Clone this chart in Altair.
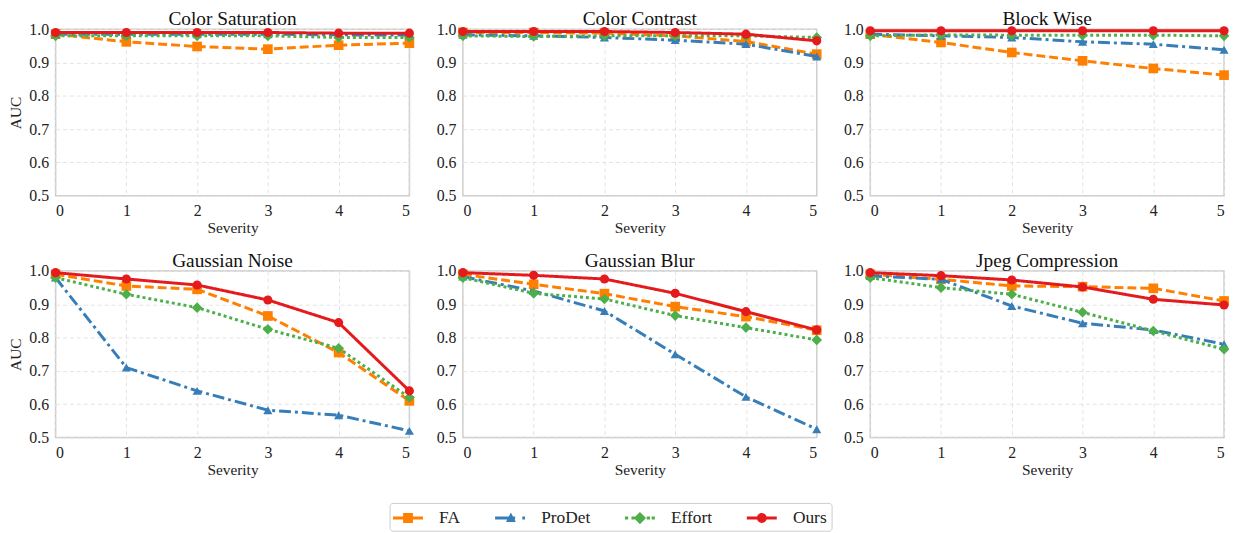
import altair as alt
import pandas as pd

FONT = "Liberation Serif"

severity = [0, 1, 2, 3, 4, 5]
methods = ["FA", "ProDet", "Effort", "Ours"]
panels = ["Color Saturation", "Color Contrast", "Block Wise",
          "Gaussian Noise", "Gaussian Blur", "Jpeg Compression"]

# values per panel: FA, ProDet, Effort, Ours
color_saturation_fa = [0.985, 0.962, 0.948, 0.940, 0.952, 0.958]
color_saturation_prodet = [0.985, 0.985, 0.985, 0.985, 0.983, 0.982]
color_saturation_effort = [0.980, 0.980, 0.980, 0.980, 0.975, 0.975]
color_saturation_ours = [0.990, 0.990, 0.990, 0.990, 0.988, 0.988]

color_contrast_fa = [0.990, 0.990, 0.988, 0.980, 0.963, 0.925]
color_contrast_prodet = [0.983, 0.980, 0.975, 0.967, 0.955, 0.918]
color_contrast_effort = [0.980, 0.978, 0.980, 0.980, 0.980, 0.975]
color_contrast_ours = [0.993, 0.993, 0.993, 0.990, 0.985, 0.965]

block_wise_fa = [0.985, 0.960, 0.930, 0.905, 0.882, 0.862]
block_wise_prodet = [0.985, 0.980, 0.975, 0.962, 0.955, 0.938]
block_wise_effort = [0.980, 0.983, 0.982, 0.982, 0.982, 0.980]
block_wise_ours = [0.995, 0.995, 0.995, 0.995, 0.995, 0.995]

gaussian_noise_fa = [0.990, 0.955, 0.945, 0.865, 0.755, 0.610]
gaussian_noise_prodet = [0.980, 0.710, 0.640, 0.582, 0.567, 0.520]
gaussian_noise_effort = [0.980, 0.930, 0.890, 0.825, 0.768, 0.620]
gaussian_noise_ours = [0.995, 0.976, 0.958, 0.913, 0.845, 0.640]

gaussian_blur_fa = [0.990, 0.960, 0.932, 0.893, 0.863, 0.822]
gaussian_blur_prodet = [0.983, 0.940, 0.880, 0.750, 0.622, 0.525]
gaussian_blur_effort = [0.980, 0.933, 0.916, 0.866, 0.830, 0.793]
gaussian_blur_ours = [0.995, 0.987, 0.976, 0.933, 0.878, 0.823]

jpeg_fa = [0.990, 0.975, 0.955, 0.953, 0.948, 0.910]
jpeg_prodet = [0.985, 0.975, 0.895, 0.843, 0.823, 0.780]
jpeg_effort = [0.980, 0.950, 0.930, 0.876, 0.820, 0.765]
jpeg_ours = [0.995, 0.986, 0.973, 0.952, 0.915, 0.898]

panel_values = {
    "Color Saturation": [color_saturation_fa, color_saturation_prodet, color_saturation_effort, color_saturation_ours],
    "Color Contrast": [color_contrast_fa, color_contrast_prodet, color_contrast_effort, color_contrast_ours],
    "Block Wise": [block_wise_fa, block_wise_prodet, block_wise_effort, block_wise_ours],
    "Gaussian Noise": [gaussian_noise_fa, gaussian_noise_prodet, gaussian_noise_effort, gaussian_noise_ours],
    "Gaussian Blur": [gaussian_blur_fa, gaussian_blur_prodet, gaussian_blur_effort, gaussian_blur_ours],
    "Jpeg Compression": [jpeg_fa, jpeg_prodet, jpeg_effort, jpeg_ours],
}

colors = ["#ff7f00", "#377eb8", "#4daf4a", "#e41a1c"]
dashes = [[9, 4], [12, 4, 3, 4], [3, 3], [1, 0]]
shapes = ["square", "triangle-up", "diamond", "circle"]
sizes = [95, 85, 115, 85]

# legend symbols (line + marker) as custom paths; unit = 11px
legend_paths = [
    "M-1.05,-0.136H1.7V0.136H-1.05Z M-0.12,-0.45H0.78V0.45H-0.12Z",
    "M-1.05,-0.136H0.79V0.136H-1.05Z M1.45,-0.136H1.7V0.136H1.45Z M0.4,-0.5L0.85,0.36L-0.05,0.36Z",
    "M-1.05,-0.136H-0.75V0.136H-1.05Z M-0.45,-0.136H-0.15V0.136H-0.45Z M0.95,-0.136H1.25V0.136H0.95Z M1.4,-0.136H1.7V0.136H1.4Z M0.33,-0.56L0.89,0L0.33,0.56L-0.23,0Z",
    "M-1.05,-0.136H1.7V0.136H-1.05Z M0.78,0A0.45,0.45 0 1,1 -0.12,0A0.45,0.45 0 1,1 0.78,0Z",
]

W, H = 357, 168


def make_panel(name, y_title, legend=False):
    rows = []
    for m, vals in zip(methods, panel_values[name]):
        for s, v in zip(severity, vals):
            rows.append({"severity": s, "auc": v, "method": m})
    df = pd.DataFrame(rows)

    x = alt.X("severity:Q", scale=alt.Scale(domain=[0, 5], nice=False),
              axis=alt.Axis(values=severity, format="d", title="Severity"))
    y = alt.Y("auc:Q", scale=alt.Scale(domain=[0.5, 1.0], nice=False, zero=False),
              axis=alt.Axis(values=[0.5, 0.6, 0.7, 0.8, 0.9, 1.0], format=".1f",
                            title="AUC" if y_title else None))
    layers = []
    for i, m in enumerate(methods):
        base = alt.Chart(df).transform_filter(alt.datum.method == m)
        layers.append(base.mark_line(color=colors[i], strokeWidth=3,
                                     strokeDash=dashes[i], strokeCap="butt").encode(x=x, y=y))
        layers.append(base.mark_point(shape=shapes[i], filled=True, size=sizes[i],
                                      color=colors[i], opacity=1).encode(x=x, y=y))
    if legend:
        lg = alt.Legend(title=None, orient="none", direction="horizontal",
                        legendX=337, legendY=478)
        leg = alt.Chart(df).transform_filter("false").mark_point(filled=True, opacity=1).encode(
            x=x, y=y,
            color=alt.Color("method:N", scale=alt.Scale(domain=methods, range=colors), legend=lg),
            shape=alt.Shape("method:N", scale=alt.Scale(domain=methods, range=legend_paths), legend=lg),
        )
        layers.append(leg)
    return alt.layer(*layers).properties(
        width=W, height=H,
        title=alt.TitleParams(name, fontSize=19.5, font=FONT, fontWeight="normal", offset=-8, color="#111"),
    )


top = alt.hconcat(make_panel(panels[0], True), make_panel(panels[1], False),
                  make_panel(panels[2], False), spacing=19)
bottom = alt.hconcat(make_panel(panels[3], True), make_panel(panels[4], False, legend=True),
                     make_panel(panels[5], False), spacing=19)

chart = alt.vconcat(top, bottom, spacing=12).properties(
    padding={"left": 0, "top": -3, "right": 0, "bottom": 0}
).configure_view(
    stroke="#cccccc", strokeWidth=1.5
).configure_title(
    fontWeight="normal"
).configure_axis(
    labelFont=FONT, titleFont=FONT, labelFontSize=16, titleFontSize=15.5,
    labelColor="#222", titleColor="#222", titleFontWeight="normal",
    grid=True, gridColor="#e3e3e3", gridDash=[4, 3], gridWidth=1,
    domain=False, ticks=False, labelPadding=7, titlePadding=2,
).configure_axisY(
    titlePadding=5
).configure_legend(
    labelFont=FONT, labelFontSize=17.5, labelColor="#222",
    symbolSize=484, symbolStrokeWidth=0, labelOffset=24, columnPadding=34,
    strokeColor="#cccccc", padding=4, cornerRadius=3, fillColor="white",
)

chart.save("out.html", embed_options={"renderer": "svg", "actions": False})
